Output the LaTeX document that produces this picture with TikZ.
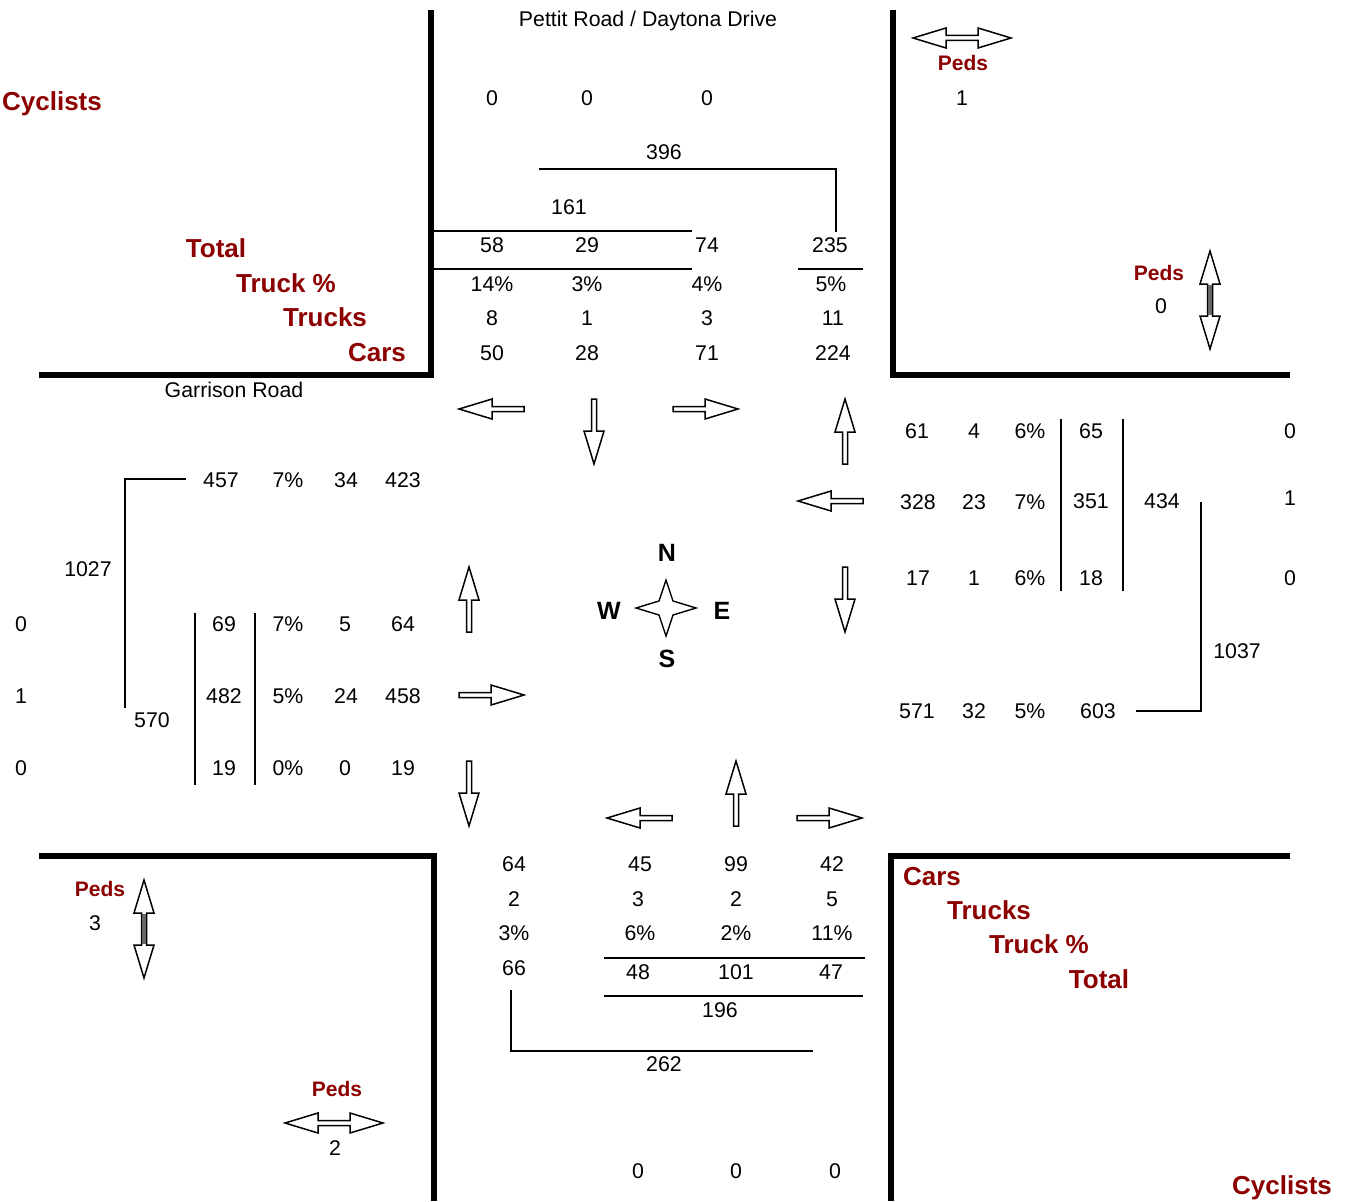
\documentclass[tikz,border=0pt]{standalone}
\usepackage{fontspec}
\setmainfont{Liberation Sans}
\definecolor{lbl}{RGB}{140,0,0}
\tikzset{
  v/.style={font=\fontsize{21.3}{25}\selectfont, inner sep=0pt, text height=15pt, text depth=0pt},
  lab/.style={font=\fontsize{26}{30}\selectfont\bfseries, text=lbl, inner sep=0pt, text height=18.6pt, text depth=0pt},
  ped/.style={font=\fontsize{21}{25}\selectfont\bfseries, text=lbl, inner sep=0pt, text height=15pt, text depth=0pt},
  cmp/.style={font=\fontsize{25}{30}\selectfont\bfseries, inner sep=0pt, text height=18pt, text depth=0pt},
  road/.style={line width=5.5pt},
  thin/.style={line width=1.7pt},
  blockarrow/.pic={\draw[line width=1.5pt, fill=white] (0,-2.5)--(32,-2.5)--(32,-10)--(65,0)--(32,10)--(32,2.5)--(0,2.5)--cycle;},
  pedh/.pic={\draw[line width=1.5pt, fill=white] (-49,0)--(-16,-10)--(-16,-2.5)--(16,-2.5)--(16,-10)--(49,0)--(16,10)--(16,2.5)--(-16,2.5)--(-16,10)--cycle;},
  pedv/.pic={\draw[line width=1.5pt, fill=white] (-49,0)--(-16,-10)--(-16,-2.5)--(16,-2.5)--(16,-10)--(49,0)--(16,10)--(16,2.5)--(-16,2.5)--(-16,10)--cycle;
             \fill[black!60] (-15.3,-1.8) rectangle (15.3,1.8);}
}
\begin{document}
\begin{tikzpicture}[x=1pt,y=-1pt]
\useasboundingbox[fill=white] (0,0) rectangle (1348,1201);
% roads
\draw[road] (431,10)--(431,375)--(39,375);
\draw[road] (893,10)--(893,375)--(1290,375);
\draw[road] (39,856)--(434,856)--(434,1201);
\draw[road] (1290,856)--(891,856)--(891,1201);
\fill[white] (896,858.8) rectangle (980,885);
% street names
\node[v] (st1) at (648,19) {Pettit Road / Daytona Drive};
\node[v] (st2) at (234,390) {Garrison Road};
% labels
\node[lab] (cyc1) at (52,101) {Cyclists};
\node[lab] (cyc2) at (1282,1185) {Cyclists};
\node[lab] (tot1) at (216,248) {Total};
\node[lab] (tp1) at (286,283) {Truck \%};
\node[lab] (tr1) at (325,317) {Trucks};
\node[lab] (cars1) at (377,352) {Cars};
\node[lab] (cars2) at (932,876) {Cars};
\node[lab] (tr2) at (989,910) {Trucks};
\node[lab] (tp2) at (1039,944) {Truck \%};
\node[lab] (tot2) at (1099,979) {Total};
% north
\node[v] (nc1) at (492,98) {0};
\node[v] (nc2) at (587,98) {0};
\node[v] (nc3) at (707,98) {0};
\node[v] (n396) at (664,152) {396};
\node[v] (n161) at (569,207) {161};
\node[v] (n58) at (492,245) {58};
\node[v] (n29) at (587,245) {29};
\node[v] (n74) at (707,245) {74};
\node[v] (n235) at (830,245) {235};
\node[v] (n14p) at (492,284) {14\%};
\node[v] (n3p) at (587,284) {3\%};
\node[v] (n4p) at (707,284) {4\%};
\node[v] (n5p) at (831,284) {5\%};
\node[v] (n8) at (492,318) {8};
\node[v] (n1) at (587,318) {1};
\node[v] (n3) at (707,318) {3};
\node[v] (n11) at (833,318) {11};
\node[v] (n50) at (492,353) {50};
\node[v] (n28) at (587,353) {28};
\node[v] (n71) at (707,353) {71};
\node[v] (n224) at (833,353) {224};
\draw[thin] (539,169)--(836,169)--(836,232);
\draw[thin] (431,231)--(692,231);
\draw[thin] (433,269)--(692,269);
\draw[thin] (798,269)--(863,269);
% east
\node[v] (e61) at (917,431) {61};
\node[v] (e4) at (974,431) {4};
\node[v] (e6p) at (1030,431) {6\%};
\node[v] (e65) at (1091,431) {65};
\node[v] (ec0a) at (1290,431) {0};
\node[v] (e328) at (918,502) {328};
\node[v] (e23) at (974,502) {23};
\node[v] (e7p) at (1030,502) {7\%};
\node[v] (e351) at (1091,501) {351};
\node[v] (e434) at (1162,501) {434};
\node[v] (ec1) at (1290,498) {1};
\node[v] (e17) at (918,578) {17};
\node[v] (e1) at (974,578) {1};
\node[v] (e6pb) at (1030,578) {6\%};
\node[v] (e18) at (1091,578) {18};
\node[v] (ec0b) at (1290,578) {0};
\node[v] (e571) at (917,711) {571};
\node[v] (e32) at (974,711) {32};
\node[v] (e5p) at (1030,711) {5\%};
\node[v] (e603) at (1098,711) {603};
\node[v] (e1037) at (1237,651) {1037};
\draw[thin] (1061,419)--(1061,591);
\draw[thin] (1123,419)--(1123,591);
\draw[thin] (1136,711)--(1201,711)--(1201,502);
% west
\node[v] (w457) at (221,480) {457};
\node[v] (w7p) at (288,480) {7\%};
\node[v] (w34) at (346,480) {34};
\node[v] (w423) at (403,480) {423};
\node[v] (w1027) at (88,569) {1027};
\node[v] (wc0a) at (21,624) {0};
\node[v] (w69) at (224,624) {69};
\node[v] (w7pb) at (288,624) {7\%};
\node[v] (w5) at (345,624) {5};
\node[v] (w64) at (403,624) {64};
\node[v] (wc1) at (21,696) {1};
\node[v] (w482) at (224,696) {482};
\node[v] (w5p) at (288,696) {5\%};
\node[v] (w24) at (346,696) {24};
\node[v] (w458) at (403,696) {458};
\node[v] (w570) at (152,720) {570};
\node[v] (wc0b) at (21,768) {0};
\node[v] (w19) at (224,768) {19};
\node[v] (w0p) at (288,768) {0\%};
\node[v] (w0) at (345,768) {0};
\node[v] (w19b) at (403,768) {19};
\draw[thin] (186,479)--(125,479)--(125,708);
\draw[thin] (195,613)--(195,785);
\draw[thin] (255,613)--(255,785);
% south
\node[v] (s64) at (514,864) {64};
\node[v] (s45) at (640,864) {45};
\node[v] (s99) at (736,864) {99};
\node[v] (s42) at (832,864) {42};
\node[v] (s2) at (514,899) {2};
\node[v] (s3) at (638,899) {3};
\node[v] (s2b) at (736,899) {2};
\node[v] (s5) at (832,899) {5};
\node[v] (s3p) at (514,933) {3\%};
\node[v] (s6p) at (640,933) {6\%};
\node[v] (s2p) at (736,933) {2\%};
\node[v] (s11p) at (832,933) {11\%};
\node[v] (s66) at (514,968) {66};
\node[v] (s48) at (638,972) {48};
\node[v] (s101) at (736,972) {101};
\node[v] (s47) at (831,972) {47};
\node[v] (s196) at (720,1010) {196};
\node[v] (s262) at (664,1064) {262};
\node[v] (sc0a) at (638,1171) {0};
\node[v] (sc0b) at (736,1171) {0};
\node[v] (sc0c) at (835,1171) {0};
\draw[thin] (604,958)--(865,958);
\draw[thin] (604,996)--(863,996);
\draw[thin] (511,990)--(511,1051)--(813,1051);
% movement arrows
\pic[rotate=180] at (524,409) {blockarrow};
\pic[rotate=-90] at (594,399) {blockarrow};
\pic at (673,409) {blockarrow};
\pic[rotate=90] at (845,464) {blockarrow};
\pic[rotate=180] at (863,501) {blockarrow};
\pic[rotate=-90] at (845,567) {blockarrow};
\pic[rotate=90] at (469,632) {blockarrow};
\pic at (459,695) {blockarrow};
\pic[rotate=-90] at (469,761) {blockarrow};
\pic[rotate=180] at (672,818) {blockarrow};
\pic[rotate=90] at (736,826) {blockarrow};
\pic at (797,818) {blockarrow};
% peds
\pic at (962,38) {pedh};
\node[ped] (p1) at (963,63) {Peds};
\node[v] (p1n) at (962,98) {1};
\pic[rotate=90] at (1210,300) {pedv};
\node[ped] (p2) at (1159,273) {Peds};
\node[v] (p2n) at (1161,306) {0};
\pic[rotate=90] at (144,929) {pedv};
\node[ped] (p3) at (100,889) {Peds};
\node[v] (p3n) at (95,923) {3};
\pic at (334,1123) {pedh};
\node[ped] (p4) at (337,1089) {Peds};
\node[v] (p4n) at (335,1148) {2};
% compass
\draw[line width=1.4pt, fill=white, line join=miter] (666,580) -- (673,601) -- (696,608) -- (673,615) -- (666,636) -- (659,615) -- (636,608) -- (659,601) -- cycle;
\node[cmp] (cN) at (667,552) {N};
\node[cmp] (cW) at (609,610) {W};
\node[cmp] (cE) at (722,610) {E};
\node[cmp] (cS) at (667,658) {S};
\end{tikzpicture}
\end{document}
